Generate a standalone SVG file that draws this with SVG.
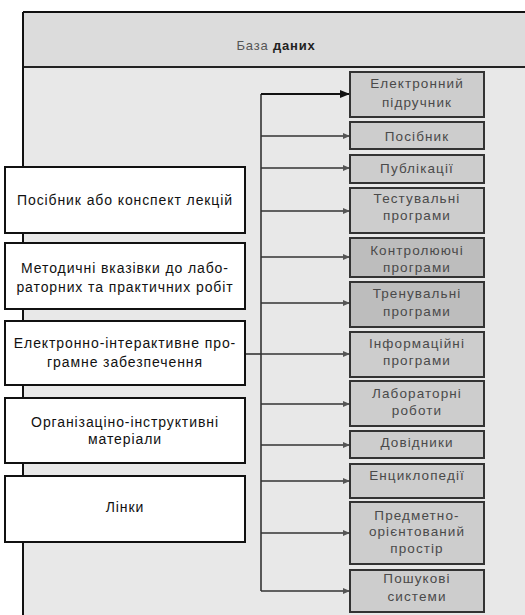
<svg xmlns="http://www.w3.org/2000/svg" width="525" height="615" viewBox="0 0 525 615">
<defs>
<style>
.lbox{fill:#ffffff;stroke:#111;stroke-width:2}
.rbox{fill:#cdcdcd;stroke:#333;stroke-width:2}
.rbox2{fill:#bdbdbd;stroke:#333;stroke-width:2}
.lt{font-family:"Liberation Sans",Arial,sans-serif;font-size:14px;letter-spacing:0.9px;fill:#111;text-anchor:middle}
.rt{font-family:"Liberation Sans",Arial,sans-serif;font-size:13.5px;letter-spacing:1.1px;fill:#4a4a4a;text-anchor:middle}
.conn{stroke:#333;stroke-width:1.6;fill:none}
</style>
<marker id="ah" viewBox="0 0 10 10" refX="10" refY="5" markerWidth="7" markerHeight="6" markerUnits="userSpaceOnUse" orient="auto" preserveAspectRatio="none">
<path d="M0,0 L10,5 L0,10 z" fill="#555"/>
</marker>
<marker id="ah1" viewBox="0 0 10 10" refX="10" refY="5" markerWidth="10" markerHeight="8" markerUnits="userSpaceOnUse" orient="auto" preserveAspectRatio="none">
<path d="M0,0 L10,5 L0,10 z" fill="#111"/>
</marker>
</defs>
<rect x="0" y="0" width="525" height="615" fill="#ffffff"/>
<g id="frame">
<rect x="23" y="12" width="510" height="610" fill="#e8e8e8"/>
<rect x="23" y="12" width="510" height="55" fill="#dcdcdc"/>
<line x1="23" y1="12" x2="525" y2="12" stroke="#111" stroke-width="2"/>
<line x1="23" y1="67" x2="525" y2="67" stroke="#222" stroke-width="2"/>
<line x1="23" y1="12" x2="23" y2="615" stroke="#111" stroke-width="2"/>
<text x="276" y="50" font-family="'Liberation Sans',Arial,sans-serif" font-size="13" letter-spacing="0.8" fill="#555" text-anchor="middle">База <tspan font-weight="bold" fill="#222">даних</tspan></text>
</g>
<g id="connectors">
<line class="conn" x1="261" y1="94" x2="261" y2="591"/>
<line class="conn" x1="245" y1="354" x2="261" y2="354"/>
<line x1="261" y1="94" x2="350" y2="94" stroke="#111" stroke-width="2" marker-end="url(#ah1)"/>
<line class="conn" x1="261" y1="136" x2="350" y2="136" marker-end="url(#ah)"/>
<line class="conn" x1="261" y1="168" x2="350" y2="168" marker-end="url(#ah)"/>
<line class="conn" x1="261" y1="211" x2="350" y2="211" marker-end="url(#ah)"/>
<line class="conn" x1="261" y1="257" x2="350" y2="257" marker-end="url(#ah)"/>
<line class="conn" x1="261" y1="303" x2="350" y2="303" marker-end="url(#ah)"/>
<line class="conn" x1="261" y1="354" x2="350" y2="354" marker-end="url(#ah)"/>
<line class="conn" x1="261" y1="404" x2="350" y2="404" marker-end="url(#ah)"/>
<line class="conn" x1="261" y1="445" x2="350" y2="445" marker-end="url(#ah)"/>
<line class="conn" x1="261" y1="481" x2="350" y2="481" marker-end="url(#ah)"/>
<line class="conn" x1="261" y1="533" x2="350" y2="533" marker-end="url(#ah)"/>
<line class="conn" x1="261" y1="591" x2="350" y2="591" marker-end="url(#ah)"/>
</g>
<g id="l1"><rect class="lbox" x="5" y="167" width="240" height="66"/><text class="lt" x="125" y="205">Посібник або конспект лекцій</text></g>
<g id="l2"><rect class="lbox" x="5" y="243" width="240" height="66"/><text class="lt" x="125" y="273">Методичні вказівки до лабо-</text><text class="lt" x="125" y="292">раторних та практичних робіт</text></g>
<g id="l3"><rect class="lbox" x="5" y="321" width="240" height="64"/><text class="lt" x="125" y="348">Електронно-інтерактивне про-</text><text class="lt" x="125" y="367">грамне забезпечення</text></g>
<g id="l4"><rect class="lbox" x="5" y="398" width="240" height="65"/><text class="lt" x="125" y="427">Організаціно-інструктивні</text><text class="lt" x="125" y="444">матеріали</text></g>
<g id="l5"><rect class="lbox" x="5" y="476" width="240" height="66"/><text class="lt" x="125" y="512">Лінки</text></g>
<g id="r1"><rect class="rbox" x="350" y="72" width="134" height="45"/><text class="rt" x="417" y="88">Електронний</text><text class="rt" x="417" y="107">підручник</text></g>
<g id="r2"><rect class="rbox" x="350" y="122" width="134" height="27"/><text class="rt" x="417" y="141">Посібник</text></g>
<g id="r3"><rect class="rbox" x="350" y="155" width="134" height="28"/><text class="rt" x="417" y="173">Публікації</text></g>
<g id="r4"><rect class="rbox" x="350" y="188" width="134" height="45"/><text class="rt" x="417" y="203">Тестувальні</text><text class="rt" x="417" y="220">програми</text></g>
<g id="r5"><rect class="rbox2" x="350" y="238" width="134" height="39"/><text class="rt" x="417" y="255">Контролюючі</text><text class="rt" x="417" y="272">програми</text></g>
<g id="r6"><rect class="rbox2" x="350" y="282" width="134" height="45"/><text class="rt" x="417" y="298">Тренувальні</text><text class="rt" x="417" y="316">програми</text></g>
<g id="r7"><rect class="rbox" x="350" y="332" width="134" height="45"/><text class="rt" x="417" y="348">Інформаційні</text><text class="rt" x="417" y="365">програми</text></g>
<g id="r8"><rect class="rbox" x="350" y="381" width="134" height="45"/><text class="rt" x="417" y="398">Лабораторні</text><text class="rt" x="417" y="415">роботи</text></g>
<g id="r9"><rect class="rbox" x="350" y="431" width="134" height="27"/><text class="rt" x="417" y="447">Довідники</text></g>
<g id="r10"><rect class="rbox" x="350" y="464" width="134" height="34"/><text class="rt" x="417" y="480">Енциклопедії</text></g>
<g id="r11"><rect class="rbox" x="350" y="502" width="134" height="62"/><text class="rt" x="417" y="520">Предметно-</text><text class="rt" x="417" y="536">орієнтований</text><text class="rt" x="417" y="553">простір</text></g>
<g id="r12"><rect class="rbox" x="350" y="570" width="134" height="42"/><text class="rt" x="417" y="583">Пошукові</text><text class="rt" x="417" y="601">системи</text></g>
</svg>
